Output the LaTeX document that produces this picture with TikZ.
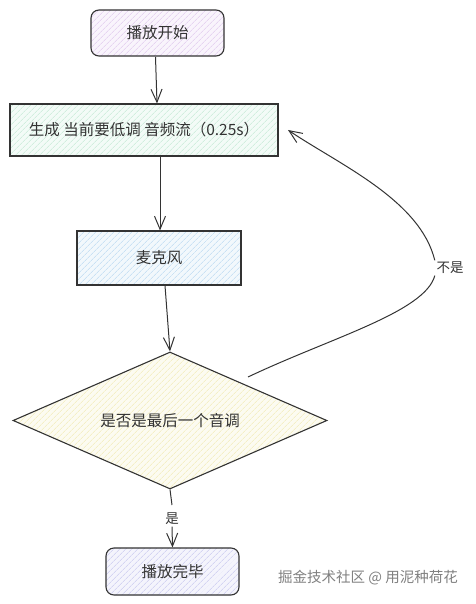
\documentclass[tikz,border=0pt]{standalone}
\usepackage{fontspec}
\setmainfont{Noto Sans CJK SC}
\usetikzlibrary{shapes.geometric,arrows.meta,patterns.meta}
\definecolor{ink}{HTML}{333333}
\definecolor{hpurple}{HTML}{DCC3EC}
\definecolor{hgreen}{HTML}{BFE8D2}
\definecolor{hblue}{HTML}{B4D6F0}
\definecolor{hyellow}{HTML}{F1EAB0}
\definecolor{hlav}{HTML}{C4C4EE}
\tikzset{
  box/.style={draw=ink, line width=1.1pt, minimum width=#1, font=\fontsize{15.5}{17}\selectfont, text=ink},
  hatch/.style={preaction={fill=#1!18}, pattern={Lines[angle=45,distance=4pt,line width=0.6pt]}, pattern color=#1},
  arr/.style={draw=ink, line width=1pt, -{Straight Barb[length=13pt,width=11pt,line width=1pt]}},
  lbl/.style={fill=white, inner sep=1.5pt, font=\fontsize{13.5}{15}\selectfont, text=ink}
}
\begin{document}
\begin{tikzpicture}[x=1pt,y=-1pt]
\useasboundingbox (0,0) rectangle (475,604);
\node[box=133pt, minimum height=46pt, rounded corners=8pt, hatch=hpurple] (start) at (157.5,33) {播放开始};
\node[box=268pt, minimum height=52pt, hatch=hgreen] (gen) at (144,130) {生成 当前要低调 音频流（0.25s）};
\node[box=164pt, minimum height=54pt, hatch=hblue] (mic) at (159,258) {麦克风};
\node[draw=ink, line width=1.1pt, shape=diamond, aspect=2.3, minimum width=314pt, minimum height=137pt, inner sep=0pt, hatch=hyellow, font=\fontsize{15.5}{17}\selectfont, text=ink] (dec) at (170,420.5) {是否是最后一个音调};
\node[box=133pt, minimum height=47pt, rounded corners=8pt, hatch=hlav] (end) at (172.5,571.5) {播放完毕};
\draw[arr] (155.5,57) -- (gen.north -| 157,0);
\draw[arr] (gen.south -| 160,0) -- (mic.north -| 160,0);
\draw[arr] (mic.south -| 165,0) -- (dec.north);
\draw[draw=ink, line width=1pt] (dec.south) -- (172,505);
\node[lbl] (yes) at (172,519) {是};
\draw[arr] (yes.south) -- (end.north);
\coordinate (loopstart) at (248,377);
\coordinate (looptip) at (288,130);
\node[lbl] (no) at (450,268) {不是};
\draw[draw=ink, line width=1pt] (loopstart) .. controls (330,338) and (425,312) .. (no.south west);
\draw[arr] (no.north west) .. controls (420,200) and (340,165) .. (looptip);
\node[text=gray, font=\fontsize{14.5}{16}\selectfont] (wm) at (368,578) {掘金技术社区 @ 用泥种荷花};
\end{tikzpicture}
\end{document}
